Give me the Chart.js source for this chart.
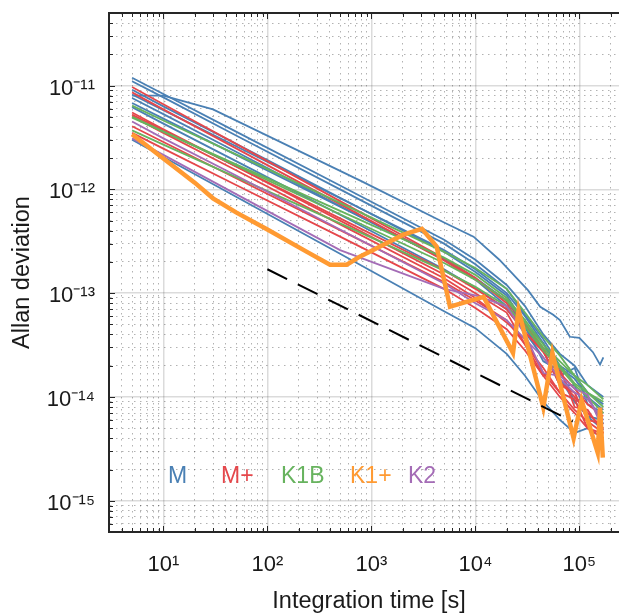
<!DOCTYPE html>
<html>
<head>
<meta charset="utf-8">
<title>Allan deviation</title>
<script src="https://cdn.jsdelivr.net/npm/chart.js@4"></script>
<style>
  html, body { margin: 0; padding: 0; background: #fff; overflow: hidden; }
  #wrap { width: 619px; height: 613px; overflow: hidden; }
</style>
</head>
<body>
<!-- the axes box runs a little past the right edge of the picture, so the canvas is wider than the view -->
<div id="wrap"><canvas id="adev" width="629" height="613"></canvas></div>
<script>
// integration times shared by most curves [s]
const tau = [5, 10, 50, 500, 5000, 1e4, 2e4, 3e4, 4.5e4, 6.5e4, 9e4, 1.2e5, 1.7e5];

// M clocks
const adevM = [
  [1.19e-11, 8.3e-12, 3.6e-12, 1.09e-12, 3.27e-13, 2.1e-13, 1.2e-13, 7.5e-14, 4.0e-14, 2.6e-14, 2.0e-14, 1.3e-14, 1.0e-14],
  [1.10e-11, 7.7e-12, 3.3e-12, 1.0e-12, 3.0e-13, 1.9e-13, 1.1e-13, 6.2e-14, 3.6e-14, 2.0e-14, 1.6e-14, 1.1e-14, 8.5e-15],
  [9.1e-12, 6.3e-12, 2.75e-12, 8.3e-13, 2.5e-13, 1.6e-13, 9.5e-14, 5.0e-14, 3.3e-14, 1.6e-14, 1.9e-14, 8.5e-15, 7.0e-15],
  [8.2e-12, 5.8e-12, 2.6e-12, 8.2e-13, 2.6e-13, 1.7e-13, 1.0e-13, 6.0e-14, 3.3e-14, 1.9e-14, 1.5e-14, 1.0e-14, 7.5e-15],
  [7.6e-12, 5.3e-12, 2.3e-12, 6.9e-13, 2.1e-13, 1.35e-13, 7.5e-14, 4.8e-14, 2.2e-14, 1.8e-14, 9.0e-15, 1.0e-14, 5.5e-15],
  [6.8e-12, 4.8e-12, 2.15e-12, 6.8e-13, 2.15e-13, 1.4e-13, 8.5e-14, 4.6e-14, 2.8e-14, 1.3e-14, 1.3e-14, 6.5e-15, 6.0e-15],
  [6.2e-12, 4.3e-12, 1.87e-12, 5.7e-13, 1.7e-13, 1.12e-13, 7.0e-14, 4.2e-14, 2.4e-14, 1.5e-14, 9.0e-15, 6.5e-15, 4.8e-15],
  [3.0e-12, 2.05e-12, 8.5e-13, 2.4e-13, 6.7e-14, 4.6e-14, 2.6e-14, 1.6e-14, 9.0e-15, 6.0e-15, 4.5e-15, 5.0e-15, 4.0e-15]
];

// the one M clock with its own (slower) curve
const tauMslow = [5, 10, 30, 800, 5000, 9600, 17000, 32000, 42000, 56000, 65000, 81000, 1e5, 1.35e5, 1.58e5, 1.7e5];
const adevMslow = [8.0e-12, 8.0e-12, 5.9e-12, 1.2e-12, 4.8e-13, 3.5e-13, 2.1e-13, 1.07e-13, 7.4e-14, 6.2e-14, 5.5e-14, 3.8e-14, 3.7e-14, 2.7e-14, 2.05e-14, 2.4e-14];

// M+ clocks
const adevMplus = [
  [9.7e-12, 6.6e-12, 2.74e-12, 7.7e-13, 2.17e-13, 1.4e-13, 8.0e-14, 4.2e-14, 2.8e-14, 1.3e-14, 1.1e-14, 6.0e-15, 5.5e-15],
  [8.6e-12, 5.9e-12, 2.48e-12, 7.2e-13, 2.06e-13, 1.35e-13, 8.5e-14, 5.0e-14, 2.9e-14, 1.7e-14, 1.2e-14, 8.5e-15, 6.5e-15],
  [5.5e-12, 3.8e-12, 1.66e-12, 5.0e-13, 1.51e-13, 1.0e-13, 6.5e-14, 3.2e-14, 1.6e-14, 1.9e-14, 8.0e-15, 7.5e-15, 4.5e-15],
  [5.25e-12, 3.7e-12, 1.66e-12, 5.25e-13, 1.66e-13, 1.1e-13, 7.0e-14, 4.2e-14, 2.7e-14, 1.4e-14, 1.0e-14, 7.0e-15, 5.0e-15],
  [5.05e-12, 3.5e-12, 1.53e-12, 4.6e-13, 1.39e-13, 9.0e-14, 5.2e-14, 3.6e-14, 1.7e-14, 1.1e-14, 9.5e-15, 5.0e-15, 4.4e-15],
  [4.05e-12, 2.86e-12, 1.28e-12, 4.05e-13, 1.28e-13, 8.5e-14, 5.5e-14, 3.2e-14, 1.9e-14, 1.1e-14, 7.5e-15, 5.8e-15, 4.5e-15],
  [3.5e-12, 2.47e-12, 1.1e-12, 3.5e-13, 1.1e-13, 7.2e-14, 4.5e-14, 2.8e-14, 1.6e-14, 1.0e-14, 7.0e-15, 5.0e-15, 4.0e-15]
];

// K1B clocks
const adevK1B = [
  [6.4e-12, 4.6e-12, 2.17e-12, 7.4e-13, 2.5e-13, 1.75e-13, 1.1e-13, 6.5e-14, 3.8e-14, 2.5e-14, 1.6e-14, 1.3e-14, 9.5e-15],
  [4.9e-12, 3.6e-12, 1.74e-12, 6.2e-13, 2.2e-13, 1.5e-13, 9.0e-14, 5.5e-14, 3.2e-14, 2.2e-14, 1.6e-14, 1.1e-14, 8.0e-15],
  [3.7e-12, 2.7e-12, 1.31e-12, 4.7e-13, 1.65e-13, 1.15e-13, 7.5e-14, 4.8e-14, 2.8e-14, 1.9e-14, 1.3e-14, 1.0e-14, 7.0e-15],
  [5.0e-12, 3.6e-12, 1.7e-12, 5.75e-13, 1.95e-13, 1.35e-13, 8.5e-14, 5.2e-14, 3.0e-14, 2.0e-14, 1.35e-14, 1.1e-14, 9.0e-15]
];

// K2 clocks
const adevK2 = [
  [3.1e-12, 2.15e-12, 9.0e-13, 2.6e-13, 1.1e-13, 9.5e-14, 7.5e-14, 4.0e-14, 1.7e-14, 1.6e-14, 1.2e-14, 1.05e-14, 4.8e-15],
  [4.5e-12, 3.1e-12, 1.36e-12, 4.1e-13, 1.24e-13, 8.0e-14, 5.5e-14, 3.6e-14, 2.4e-14, 1.5e-14, 1.1e-14, 9.5e-15, 6.0e-15]
];

// K1+ clock (thick curve)
const tauK1plus = [5, 10, 20, 30, 50, 100, 240, 400, 580, 780, 1040, 2030, 3060, 4240, 5700, 12000, 23000, 26000, 45000, 55000, 88000, 105000, 150000, 158000, 168000];
const adevK1plus = [3.4e-12, 1.98e-12, 1.16e-12, 8.2e-13, 6.0e-13, 4.1e-13, 2.5e-13, 1.88e-13, 1.88e-13, 2.26e-13, 2.6e-13, 3.66e-13, 4.17e-13, 2.82e-13, 7.4e-14, 9.2e-14, 2.66e-14, 6.9e-14, 7.9e-15, 2.66e-14, 4.0e-15, 9.3e-15, 2.9e-15, 7.9e-15, 2.6e-15];

// tau^-1/2 reference line
const tauRef = [100, 86400];
const adevRef = [1.7e-13, 5.8e-15];

const groups = ['M', 'M+', 'K1B', 'K1+', 'K2'];
const groupColors = ['#4a80b4', '#e5474b', '#67b35e', '#ff9a32', '#a46cb6'];

const xTickVals = [10, 100, 1000, 10000, 100000];
const xTickLabels = ['10¹', '10²', '10³', '10⁴', '10⁵'];
const yTickVals = [1e-15, 1e-14, 1e-13, 1e-12, 1e-11];
const yTickLabels = ['10⁻¹⁵', '10⁻¹⁴', '10⁻¹³', '10⁻¹²', '10⁻¹¹'];

const X_MIN = 3, X_MAX = 3e5;
const Y_MIN = 5e-16, Y_MAX = 5e-11;
const FONT = '"Liberation Sans", Arial, sans-serif';
const INK = '#262626';

function pts(t, v) {
  return t.map((x, i) => ({ x: x, y: v[i] }));
}

function isMajor(v) {
  const l = Math.log10(v);
  return Math.abs(l - Math.round(l)) < 1e-6;
}

// 1..9 x 10^k ticks strictly inside the range (for the minor grid)
function logTicks(lo, hi) {
  const out = [];
  for (let e = Math.floor(Math.log10(lo)); e <= Math.ceil(Math.log10(hi)); e++) {
    for (let m = 1; m <= 9; m++) {
      const v = m * Math.pow(10, e);
      if (v > lo * 1.0001 && v < hi * 0.9999) out.push(v);
    }
  }
  return out;
}

function labelFor(v, vals, labels) {
  const i = vals.findIndex(t => Math.abs(Math.log10(t) - Math.log10(v)) < 1e-6);
  return i < 0 ? '' : labels[i];
}

function thin(data, color) {
  return { data: data, borderColor: color, borderWidth: 1.8, pointRadius: 0, fill: false, tension: 0 };
}

// first dataset is drawn on top
let datasets = [];
datasets.push({ data: pts(tauRef, adevRef), borderColor: '#000', borderWidth: 2, borderDash: [22, 12], pointRadius: 0, fill: false });
datasets.push({ data: pts(tauK1plus, adevK1plus), borderColor: groupColors[3], borderWidth: 4.5, pointRadius: 0, fill: false, tension: 0 });
adevK2.forEach(v => datasets.push(thin(pts(tau, v), groupColors[4])));
adevK1B.forEach(v => datasets.push(thin(pts(tau, v), groupColors[2])));
adevMplus.forEach(v => datasets.push(thin(pts(tau, v), groupColors[1])));
datasets.push(thin(pts(tauMslow, adevMslow), groupColors[0]));
adevM.forEach(v => datasets.push(thin(pts(tau, v), groupColors[0])));

const gridColor = ctx => (ctx.tick && isMajor(ctx.tick.value)) ? 'rgba(0,0,0,0.14)' : 'rgba(0,0,0,0.3)';
const gridWidth = ctx => (ctx.tick && isMajor(ctx.tick.value)) ? 1.5 : 1;
const gridDash = ctx => (ctx.tick && !isMajor(ctx.tick.value)) ? [1.5, 4.5] : [];

// inward tick marks + top edge of the box, like the original figure
const axesBox = {
  id: 'axesBox',
  afterDatasetsDraw(chart) {
    const { ctx, chartArea: a, scales } = chart;
    const x = scales.x, y = scales.y;
    ctx.save();
    ctx.strokeStyle = INK;
    ctx.lineWidth = 1;
    ctx.beginPath();
    x.ticks.forEach(t => {
      const px = Math.round(x.getPixelForValue(t.value)) + 0.5;
      const len = isMajor(t.value) ? 6 : 4;
      ctx.moveTo(px, a.bottom); ctx.lineTo(px, a.bottom - len);
      ctx.moveTo(px, a.top); ctx.lineTo(px, a.top + len);
    });
    y.ticks.forEach(t => {
      const py = Math.round(y.getPixelForValue(t.value)) + 0.5;
      const len = isMajor(t.value) ? 6 : 4;
      ctx.moveTo(a.left, py); ctx.lineTo(a.left + len, py);
    });
    ctx.stroke();
    ctx.lineWidth = 2;
    ctx.beginPath();
    ctx.moveTo(a.left - 1, a.top);
    ctx.lineTo(a.right, a.top);
    ctx.stroke();
    ctx.restore();
  }
};

// coloured group names inside the axes (legend without line samples)
const groupLegend = {
  id: 'groupLegend',
  afterDatasetsDraw(chart, args, opts) {
    const { ctx, chartArea: a } = chart;
    ctx.save();
    ctx.font = opts.size + 'px ' + FONT;
    ctx.textBaseline = 'alphabetic';
    ctx.textAlign = 'left';
    groups.forEach((g, i) => {
      ctx.fillStyle = groupColors[i];
      ctx.fillText(g, a.left + opts.left[i], a.top + opts.baseline);
    });
    ctx.restore();
  }
};

new Chart(document.getElementById('adev'), {
  type: 'line',
  data: { datasets: datasets },
  plugins: [axesBox, groupLegend],
  options: {
    responsive: false,
    animation: false,
    layout: { padding: { top: 13, right: 0, bottom: 0, left: 0 } },
    plugins: {
      legend: { display: false },
      tooltip: { enabled: false },
      groupLegend: { left: [59, 112, 172, 241, 299], baseline: 470, size: 23 }
    },
    scales: {
      x: {
        type: 'logarithmic',
        position: 'bottom',
        min: X_MIN,
        max: X_MAX,
        afterBuildTicks: s => { s.ticks = logTicks(X_MIN, X_MAX).map(v => ({ value: v })); },
        afterFit: s => { s.height = 81; s.paddingLeft = 0; s.paddingRight = 0; },
        ticks: {
          autoSkip: false,
          maxRotation: 0,
          padding: 20,
          color: '#1a1a1a',
          font: { family: FONT, size: 22 },
          callback: v => labelFor(v, xTickVals, xTickLabels)
        },
        grid: { drawTicks: false, color: gridColor, lineWidth: gridWidth },
        border: { display: true, color: INK, width: 2, dash: gridDash },
        title: {
          display: true,
          text: 'Integration time [s]',
          color: '#1a1a1a',
          font: { family: FONT, size: 23.5 },
          padding: { top: 0, bottom: -3 }
        }
      },
      y: {
        type: 'logarithmic',
        position: 'left',
        min: Y_MIN,
        max: Y_MAX,
        afterBuildTicks: s => { s.ticks = logTicks(Y_MIN, Y_MAX).map(v => ({ value: v })); },
        afterFit: s => { s.width = 109; s.paddingTop = 0; s.paddingBottom = 0; },
        ticks: {
          autoSkip: false,
          padding: 14,
          labelOffset: 3,
          color: '#1a1a1a',
          font: { family: FONT, size: 22 },
          callback: v => labelFor(v, yTickVals, yTickLabels)
        },
        grid: { drawTicks: false, color: gridColor, lineWidth: gridWidth },
        border: { display: true, color: INK, width: 2, dash: gridDash },
        title: {
          display: true,
          text: 'Allan deviation',
          color: '#1a1a1a',
          font: { family: FONT, size: 23.5 },
          padding: { top: 8, bottom: 0 }
        }
      }
    }
  }
});
</script>
</body>
</html>
